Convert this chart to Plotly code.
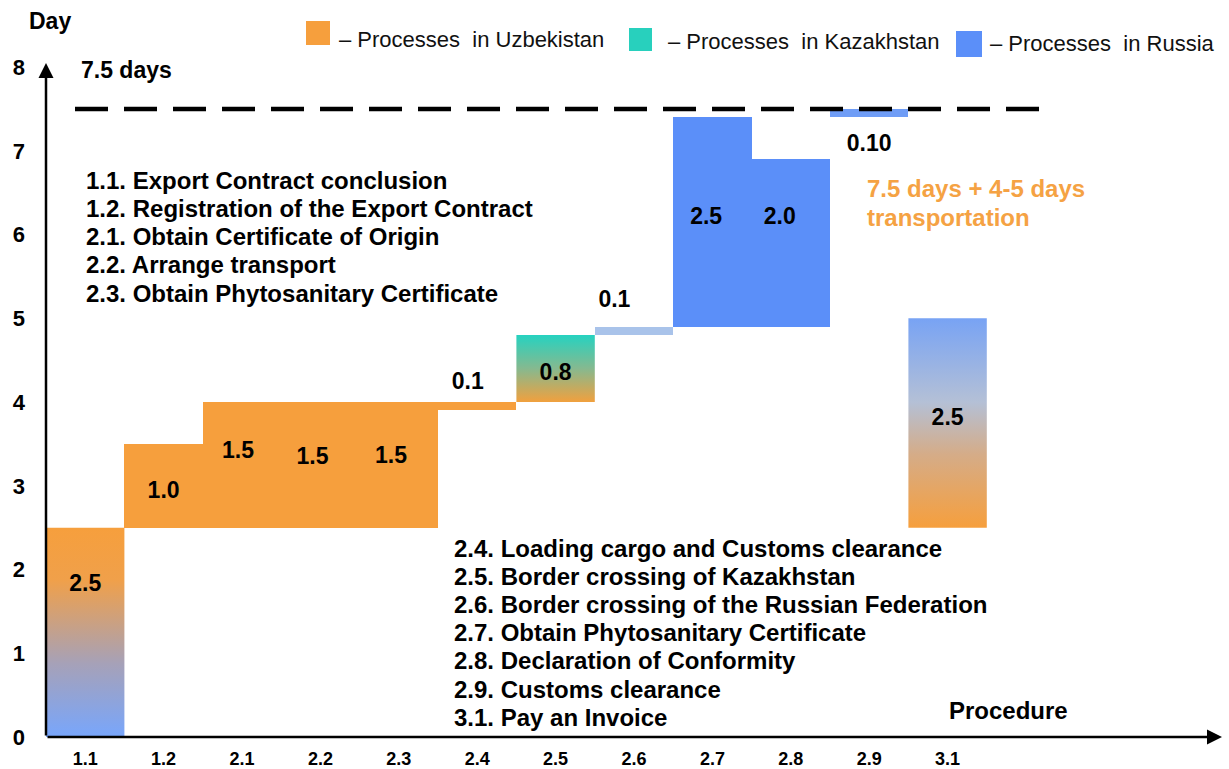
import plotly.graph_objects as go

# Procedure steps, durations (days) and the day each step starts on
procedures = ["1.1", "1.2", "2.1", "2.2", "2.3", "2.4", "2.5", "2.6", "2.7", "2.8", "2.9", "3.1"]
durations = [2.5, 1.0, 1.5, 1.5, 1.5, 0.1, 0.8, 0.1, 2.5, 2.0, 0.1, 2.5]
start_day = [0.0, 2.5, 2.5, 2.5, 2.5, 3.9, 4.0, 4.8, 4.9, 4.9, 7.4, 2.5]
label_decimals = [1, 1, 1, 1, 1, 1, 1, 1, 1, 1, 2, 1]

total_days = 7.5
y_ticks = [0, 1, 2, 3, 4, 5, 6, 7, 8]

left_notes = [
    "1.1. Export Contract conclusion",
    "1.2. Registration of the Export Contract",
    "2.1. Obtain Certificate of Origin",
    "2.2. Arrange transport",
    "2.3. Obtain Phytosanitary Certificate",
]
right_notes = [
    "2.4. Loading cargo and Customs clearance",
    "2.5. Border crossing of Kazakhstan",
    "2.6. Border crossing of the Russian Federation",
    "2.7. Obtain Phytosanitary Certificate",
    "2.8. Declaration of Conformity",
    "2.9. Customs clearance",
    "3.1. Pay an Invoice",
]
legend_items = [
    ("– Processes  in Uzbekistan", "#F69F3D"),
    ("– Processes  in Kazakhstan", "#28D0BD"),
    ("– Processes  in Russia", "#5B8FF9"),
]

# Colours
ORANGE = "#F69F3D"
TEAL = "#28D0BD"
BLUE = "#5B8FF9"
bar_fill = {
    1: ORANGE, 2: ORANGE, 3: ORANGE, 4: ORANGE, 5: ORANGE,
    7: "#A9C3EA", 8: BLUE, 9: BLUE, 10: "#6F9DF6",
}
bar_gradient = {
    0: [[0, "#78A6FC"], [0.35, "#A6A1B8"], [0.75, "#F0A04A"], [1, ORANGE]],
    6: [[0, "#F1A03E"], [0.5, "#86B98F"], [1, "#26D2C0"]],
    11: [[0, "#F69F3D"], [0.35, "#D5AC88"], [0.6, "#B4C0D6"], [1, "#78A3F4"]],
}

# Label placement (day value on the y axis) and small x nudges
label_y = [1.81, 2.92, 3.40, 3.33, 3.34, 4.22, 4.33, 5.21, 6.20, 6.19, 7.07, 3.80]
label_dx = [0, 0, -0.05, -0.1, -0.1, -0.12, 0, -0.25, -0.08, -0.14, 0, 0]

FONT = "Liberation Sans"

fig = go.Figure()

solid_idx = sorted(bar_fill)
fig.add_trace(go.Bar(
    x=solid_idx,
    y=[durations[i] for i in solid_idx],
    base=[start_day[i] for i in solid_idx],
    width=1.0,
    marker=dict(color=[bar_fill[i] for i in solid_idx], line=dict(width=0)),
    showlegend=False,
    hoverinfo="skip",
))

for i, scale in bar_gradient.items():
    b, d = start_day[i], durations[i]
    fig.add_trace(go.Scatter(
        x=[i - 0.5, i + 0.5, i + 0.5, i - 0.5, i - 0.5],
        y=[b, b, b + d, b + d, b],
        mode="lines",
        line=dict(width=0),
        fill="toself",
        fillgradient=dict(type="vertical", colorscale=scale),
        showlegend=False,
        hoverinfo="skip",
    ))

# Value labels
fig.add_trace(go.Scatter(
    x=[i + label_dx[i] for i in range(len(procedures))],
    y=label_y,
    mode="text",
    text=[f"{v:.{k}f}" for v, k in zip(durations, label_decimals)],
    textfont=dict(family=FONT, size=23, color="black", weight="bold"),
    showlegend=False,
    hoverinfo="skip",
))

W, H = 1229, 769
L, R, T, B = 46, 7, 63, 32


def px_x(p):
    return (p - L) / (W - L - R)


def px_y(p):
    return (H - B - p) / (H - B - T)


annotations = []
shapes = []

# Axes drawn as arrows
annotations.append(dict(x=-0.5, y=8.05, ax=-0.5, ay=0, xref="x", yref="y", axref="x", ayref="y",
                        showarrow=True, arrowhead=2, arrowsize=1.2, arrowwidth=2.5, arrowcolor="black", text=""))
annotations.append(dict(x=14.5, y=0, ax=-0.5, ay=0, xref="x", yref="y", axref="x", ayref="y",
                        showarrow=True, arrowhead=2, arrowsize=1.2, arrowwidth=2.5, arrowcolor="black", text=""))

# Total duration line
shapes.append(dict(type="line", xref="x", yref="y", x0=-0.13, x1=12.33, y0=total_days, y1=total_days,
                   line=dict(color="black", width=4.5, dash="33px,16px")))


def note(text, x, y, size=24, color="black", weight="bold"):
    annotations.append(dict(text=text, x=px_x(x), y=px_y(y), xref="paper", yref="paper",
                            xanchor="left", yanchor="middle", showarrow=False,
                            font=dict(family=FONT, size=size, color=color, weight=weight)))


note("Day", 27, 21, size=23)
note(f"{total_days} days", 79, 70, size=23)
note("Procedure", 947, 710)
note("7.5 days + 4-5 days", 865, 188, color="#F5A243")
note("transportation", 865, 217, color="#F5A243")

for k, line in enumerate(left_notes):
    note(line, 84, 180 + 28.3 * k)
for k, line in enumerate(right_notes):
    note(line, 452, 548 + 28.2 * k)

# Legend swatches and texts
legend_boxes = [(306, 330, 21, 45, 337, 39), (629, 652, 28, 51, 666, 42), (956, 982, 31, 57, 988, 44)]
for (label, col), (x0, x1, y0, y1, tx, ty) in zip(legend_items, legend_boxes):
    shapes.append(dict(type="rect", xref="paper", yref="paper", x0=px_x(x0), x1=px_x(x1),
                       y0=px_y(y1), y1=px_y(y0), fillcolor=col, line=dict(width=0)))
    note(label, tx, ty, size=22, color="#111111", weight="normal")

fig.update_layout(
    width=W, height=H,
    margin=dict(l=L, r=R, t=T, b=B, autoexpand=False),
    paper_bgcolor="white", plot_bgcolor="white",
    bargap=0,
    showlegend=False,
    annotations=annotations,
    shapes=shapes,
    xaxis=dict(
        range=[-0.5, 14.5],
        tickvals=list(range(len(procedures))),
        ticktext=procedures,
        showgrid=False, zeroline=False, showline=False,
        ticks="", ticklabelstandoff=9, automargin=False,
        tickfont=dict(family=FONT, size=18, color="black", weight="bold"),
        fixedrange=True,
    ),
    yaxis=dict(
        range=[0, 8.05],
        tickvals=y_ticks,
        showgrid=False, zeroline=False, showline=False,
        ticks="", ticklabelstandoff=20, automargin=False,
        tickfont=dict(family=FONT, size=22, color="black", weight="bold"),
        fixedrange=True,
    ),
)

fig.write_html("out.html")
